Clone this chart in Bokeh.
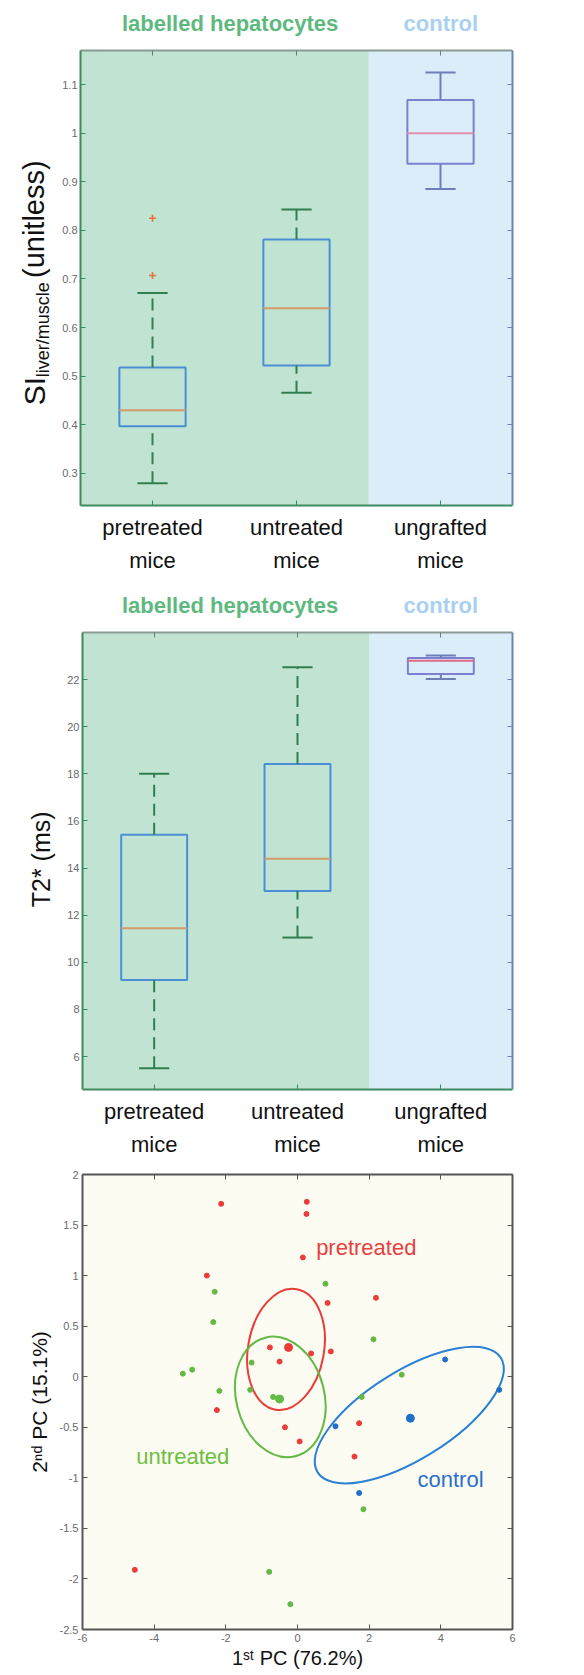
from math import pi
from bokeh.plotting import figure
from bokeh.models import (Range1d, FixedTicker, LinearAxis, Label, BoxAnnotation,
                          CustomJSTickFormatter)
from bokeh.core.properties import value
from bokeh.layouts import column, row
from bokeh.embed import file_html
from bokeh.resources import INLINE

FONT = "Liberation Sans"

# ---------------- data ----------------
group_labels = ["pretreated\nmice", "untreated\nmice", "ungrafted\nmice"]
group_pos = [1, 2, 3]
header_texts = ["labelled hepatocytes", "control"]
header_pos = [1.53, 3.0]

si_low = [0.28, 0.466, 0.885]
si_q1 = [0.397, 0.522, 0.937]
si_median = [0.43, 0.64, 1.0]
si_q3 = [0.518, 0.781, 1.068]
si_high = [0.671, 0.843, 1.125]
si_outlier_group = [1, 1]
si_outlier_value = [0.825, 0.707]
si_ticks = [0.3, 0.4, 0.5, 0.6, 0.7, 0.8, 0.9, 1.0, 1.1]

t2_low = [5.5, 11.05, 22.03]
t2_q1 = [9.25, 13.03, 22.24]
t2_median = [11.45, 14.4, 22.8]
t2_q3 = [15.41, 18.42, 22.92]
t2_high = [18.0, 22.52, 23.02]
t2_ticks = [6, 8, 10, 12, 14, 16, 18, 20, 22]

pre_x = [-2.13, 0.26, 0.25, 0.15, -2.53, 0.84, 2.19, -0.77, 0.38, 0.93, -0.5,
         -2.25, -0.35, 0.06, 1.72, 1.59, -4.54]
pre_y = [1.71, 1.73, 1.61, 1.18, 1.0, 0.73, 0.78, 0.29, 0.23, 0.25, 0.15,
         -0.33, -0.5, -0.64, -0.46, -0.79, -1.91]
untr_x = [0.78, -2.31, -2.35, 2.12, -3.2, -2.94, -1.28, -2.18, -1.32, -0.68,
          2.91, 1.79, 1.84, -0.79, -0.2]
untr_y = [0.92, 0.84, 0.54, 0.37, 0.03, 0.07, 0.14, -0.14, -0.13, -0.2,
          0.02, -0.2, -1.31, -1.93, -2.25]
ctrl_x = [4.12, 5.63, 1.72, 1.06]
ctrl_y = [0.17, -0.13, -1.15, -0.49]
centroid_x = [-0.25, -0.5, 3.15]
centroid_y = [0.29, -0.22, -0.41]
ellipse_x = [-0.32, -0.48, 3.12]
ellipse_y = [0.27, -0.2, -0.38]
ellipse_w = [2.12, 2.46, 6.03]
ellipse_h = [1.21, 1.21, 0.87]
ellipse_angle = [-0.175, 0.25, 0.558]
pc_xticks = [-6, -4, -2, 0, 2, 4, 6]
pc_yticks = [-2.5, -2, -1.5, -1, -0.5, 0, 0.5, 1, 1.5, 2]

# ---------------- styles ----------------
GREEN_BG = "#c1e3d1"
BLUE_BG = "#dcedfa"
BOX_COLORS = ["#4a8fd6", "#4a8fd6", "#7c80cf"]
MED_COLORS = ["#d39a6c", "#d39a6c"]
WHISK_GREEN = "#2f7f50"
WHISK_BLUE = "#6d7fb8"
HALF_BOX = 0.23
HALF_CAP = 0.105
TXT = "#111111"
W = 584
YLAB_W = 56

fmt = CustomJSTickFormatter(code="return String(tick)")


def blank_fig(width, height, xr, yr, left=0, right=0, top=0, bottom=0):
    f = figure(width=width, height=height, x_range=xr, y_range=yr,
               output_backend="svg", toolbar_location=None,
               x_axis_type=None, y_axis_type=None,
               min_border_left=left, min_border_right=right,
               min_border_top=top, min_border_bottom=bottom)
    f.outline_line_color = None
    f.background_fill_color = "white"
    f.border_fill_color = "white"
    return f


def header_fig(height, left, fw, ytext):
    f = blank_fig(W, height, Range1d(0.5, 3.5), Range1d(0, height),
                  left=left, right=W - left - fw)
    f.text(x=header_pos, y=[ytext, ytext], text=header_texts,
           text_color=["#5eb97f", "#a8d0f2"], text_align="center",
           text_baseline="middle", text_font=value(FONT),
           text_font_size="22px", text_font_style="bold")
    return f


def box_panel(height, ftop, fh, fleft, fw, yrange, yticks, low, q1, med, q3,
              high, median3_color):
    width = W - YLAB_W
    p = figure(width=width, height=height, x_range=Range1d(0.5, 3.5),
               y_range=yrange, output_backend="svg", toolbar_location=None,
               x_axis_type=None, y_axis_type=None,
               min_border_left=fleft, min_border_right=width - fleft - fw,
               min_border_top=ftop, min_border_bottom=height - ftop - fh)
    p.outline_line_color = None
    p.background_fill_color = BLUE_BG
    p.add_layout(BoxAnnotation(left=0.5, right=2.5, fill_color=GREEN_BG,
                               fill_alpha=1, line_alpha=0, level="underlay"))
    xb = LinearAxis(ticker=FixedTicker(ticks=group_pos),
                    major_label_overrides={k: v for k, v in zip(group_pos, group_labels)},
                    major_label_text_font=FONT, major_label_text_font_size="22px",
                    major_label_text_color=TXT, major_label_text_line_height=1.35,
                    major_label_standoff=9,
                    axis_line_color="#3e8a5f", axis_line_width=2,
                    major_tick_in=5, major_tick_out=0, major_tick_line_color="#3e8a5f",
                    minor_tick_line_color=None)
    p.add_layout(xb, "below")
    xt = LinearAxis(ticker=FixedTicker(ticks=[], minor_ticks=group_pos),
                    axis_line_color="#8b9b93", axis_line_width=2,
                    major_tick_line_color=None, minor_tick_in=5, minor_tick_out=0,
                    minor_tick_line_color="#6b7b73", major_label_standoff=0)
    p.add_layout(xt, "above")
    yl = LinearAxis(ticker=FixedTicker(ticks=yticks), formatter=fmt,
                    major_label_text_font=FONT, major_label_text_font_size="11px",
                    major_label_text_color="#6a6a6a", major_label_standoff=3,
                    axis_line_color="#3e8a5f", axis_line_width=2,
                    major_tick_in=5, major_tick_out=0, major_tick_line_color="#3e8a5f",
                    minor_tick_line_color=None)
    p.add_layout(yl, "left")
    yrr = LinearAxis(ticker=FixedTicker(ticks=[], minor_ticks=yticks),
                     axis_line_color="#6c85ad", axis_line_width=2,
                     major_tick_line_color=None, minor_tick_in=5, minor_tick_out=0,
                     minor_tick_line_color="#6c85ad", major_label_standoff=0)
    p.add_layout(yrr, "right")

    p.quad(left=[x - HALF_BOX for x in group_pos], right=[x + HALF_BOX for x in group_pos],
           bottom=q1, top=q3, fill_color=None, line_color=BOX_COLORS, line_width=2)
    p.segment(x0=[x - HALF_BOX for x in group_pos], x1=[x + HALF_BOX for x in group_pos],
              y0=med, y1=med, line_color=MED_COLORS + [median3_color], line_width=2)
    gx = group_pos[:2]
    p.segment(x0=gx + gx, x1=gx + gx, y0=q3[:2] + low[:2], y1=high[:2] + q1[:2],
              line_color=WHISK_GREEN, line_width=2, line_dash="12 7")
    p.segment(x0=[x - HALF_CAP for x in gx] * 2, x1=[x + HALF_CAP for x in gx] * 2,
              y0=high[:2] + low[:2], y1=high[:2] + low[:2], line_color=WHISK_GREEN,
              line_width=2)
    cx = group_pos[2:]
    p.segment(x0=cx + cx, x1=cx + cx, y0=q3[2:] + low[2:], y1=high[2:] + q1[2:],
              line_color=WHISK_BLUE, line_width=2)
    p.segment(x0=[x - HALF_CAP for x in cx] * 2, x1=[x + HALF_CAP for x in cx] * 2,
              y0=high[2:] + low[2:], y1=high[2:] + low[2:], line_color=WHISK_BLUE,
              line_width=2)
    return p


# ---------- panel 1 (SI) ----------
si_range = Range1d(0.234, 1.17)
h1 = header_fig(46, 80, 432, 23)
p1 = box_panel(539, 4, 455, 24, 432, si_range, si_ticks,
               si_low, si_q1, si_median, si_q3, si_high, "#e38fb2")
p1.scatter(x=si_outlier_group, y=si_outlier_value, marker="cross", size=7,
           line_color="#e8703f", line_width=1.6)
ylab1 = blank_fig(YLAB_W, 539, Range1d(0, YLAB_W), si_range, top=4, bottom=80)
ylab1.text(x=[34], y=[0.44], text=["SI"], angle=pi / 2, text_align="left",
           text_baseline="alphabetic", text_font=value(FONT), text_font_size="30px",
           text_color=TXT)
ylab1.text(x=[42], y=[0.498], text=["liver/muscle"], angle=pi / 2, text_align="left",
           text_baseline="alphabetic", text_font=value(FONT), text_font_size="18px",
           text_color=TXT)
ylab1.text(x=[33], y=[0.702], text=["(unitless)"], angle=pi / 2, text_align="left",
           text_baseline="alphabetic", text_font=value(FONT), text_font_size="29px",
           text_color=TXT)

# ---------- panel 2 (T2*) ----------
t2_range = Range1d(4.6, 24.0)
h2 = header_fig(43, 82, 430, 23)
p2 = box_panel(532, 4, 458, 26, 430, t2_range, t2_ticks,
               t2_low, t2_q1, t2_median, t2_q3, t2_high, "#e06a86")
ylab2 = blank_fig(YLAB_W, 532, Range1d(0, YLAB_W), t2_range, top=4, bottom=70)
ylab2.text(x=[40], y=[14.37], text=["T2* (ms)"], angle=pi / 2, text_align="center",
           text_baseline="alphabetic", text_font=value(FONT), text_font_size="25px",
           text_color=TXT)

# ---------- panel 3 (PCA) ----------
p3 = figure(width=W, height=515, x_range=Range1d(-6, 6), y_range=Range1d(-2.5, 2),
            output_backend="svg", toolbar_location=None, x_axis_type=None,
            y_axis_type=None, min_border_left=67, min_border_right=63,
            min_border_top=14, min_border_bottom=46)
p3.outline_line_color = None
p3.background_fill_color = "#fcfcf2"
ax_line = dict(axis_line_color="#555555", axis_line_width=2)
xb3 = LinearAxis(ticker=FixedTicker(ticks=pc_xticks), formatter=fmt,
                 major_label_text_font=FONT, major_label_text_font_size="11px",
                 major_label_text_color="#6a6a6a", major_label_standoff=4,
                 major_tick_in=5, major_tick_out=0, major_tick_line_color="#555555",
                 minor_tick_line_color=None,
                 axis_label="1ˢᵗ PC (76.2%)", axis_label_text_font=FONT,
                 axis_label_text_font_size="20px", axis_label_text_font_style="normal",
                 axis_label_text_color=TXT, axis_label_standoff=2, **ax_line)
p3.add_layout(xb3, "below")
yl3 = LinearAxis(ticker=FixedTicker(ticks=pc_yticks), formatter=fmt,
                 major_label_text_font=FONT, major_label_text_font_size="11px",
                 major_label_text_color="#6a6a6a", major_label_standoff=4,
                 major_tick_in=5, major_tick_out=0, major_tick_line_color="#555555",
                 minor_tick_line_color=None,
                 axis_label="2ⁿᵈ PC (15.1%)", axis_label_text_font=FONT,
                 axis_label_text_font_size="21px", axis_label_text_font_style="normal",
                 axis_label_text_color=TXT, axis_label_standoff=6, **ax_line)
p3.add_layout(yl3, "left")
p3.add_layout(LinearAxis(ticker=FixedTicker(ticks=[], minor_ticks=pc_xticks),
                         major_tick_line_color=None, minor_tick_in=5, minor_tick_out=0,
                         minor_tick_line_color="#555555", major_label_standoff=0,
                         **ax_line), "above")
p3.add_layout(LinearAxis(ticker=FixedTicker(ticks=[], minor_ticks=pc_yticks),
                         major_tick_line_color=None, minor_tick_in=5, minor_tick_out=0,
                         minor_tick_line_color="#555555", major_label_standoff=0,
                         **ax_line), "right")

RED, GREEN, BLUE = "#ec3b3b", "#63b944", "#2a80d4"
p3.ellipse(x=ellipse_x, y=ellipse_y, width=ellipse_w, height=ellipse_h,
           angle=ellipse_angle, fill_color=None, line_color=[RED, GREEN, BLUE],
           line_width=2)
p3.scatter(x=pre_x, y=pre_y, size=5, color=RED)
p3.scatter(x=untr_x, y=untr_y, size=5, color=GREEN)
p3.scatter(x=ctrl_x, y=ctrl_y, size=5, color="#1f6fc8")
p3.scatter(x=centroid_x, y=centroid_y, size=8, color=[RED, GREEN, "#1f6fc8"])
p3.add_layout(Label(x=0.52, y=1.28, text="pretreated", text_baseline="middle",
                    text_font=FONT, text_font_size="22px", text_color="#e8403f"))
p3.add_layout(Label(x=-4.5, y=-0.79, text="untreated", text_baseline="middle",
                    text_font=FONT, text_font_size="22px", text_color="#6cbf3f"))
p3.add_layout(Label(x=3.35, y=-1.02, text="control", text_baseline="middle",
                    text_font=FONT, text_font_size="22px", text_color="#2b6fcf"))

layout = column(h1, row(ylab1, p1), h2, row(ylab2, p2), p3)
open("out.html", "w").write(file_html(layout, INLINE))
